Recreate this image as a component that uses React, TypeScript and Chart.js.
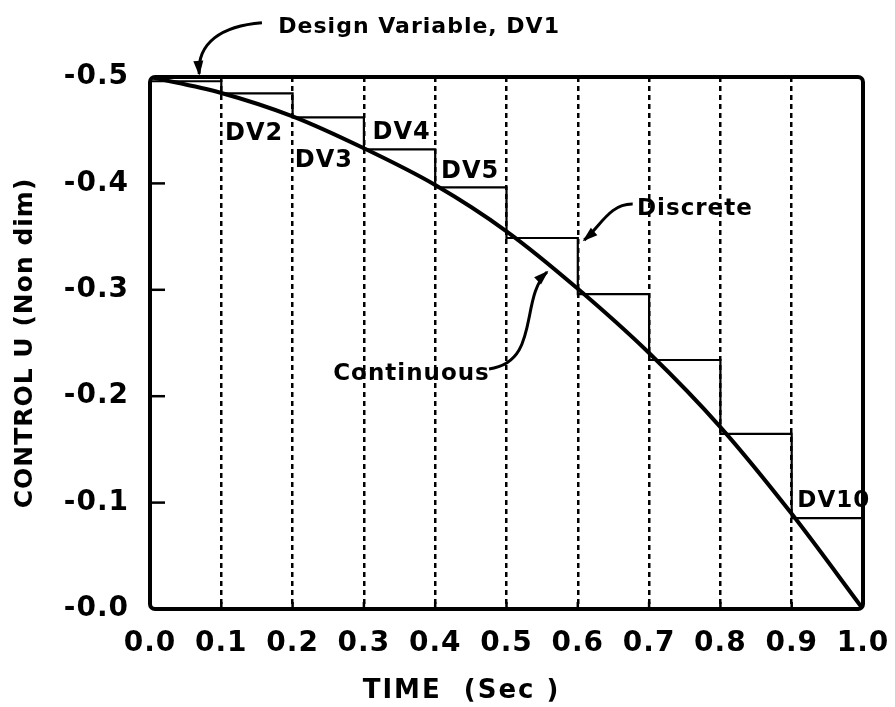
import React, { useEffect, useRef } from "react";
import { Chart, registerables } from "chart.js";

Chart.register(...registerables);

// ---- data ----
const timeValues = [0, 0.1, 0.2, 0.3, 0.4, 0.5, 0.6, 0.7, 0.8, 0.9, 1.0];
const continuousValues = [-0.5, -0.485, -0.463, -0.433, -0.3985, -0.355, -0.301, -0.2406, -0.171, -0.0895, 0];
const discreteValues = [-0.496, -0.4847, -0.462, -0.432, -0.3963, -0.3487, -0.296, -0.234, -0.1645, -0.0855, 0];
const xTickValues = [0, 0.1, 0.2, 0.3, 0.4, 0.5, 0.6, 0.7, 0.8, 0.9, 1.0];
const yTickValues = [-0.5, -0.4, -0.3, -0.2, -0.1, 0];
const yTickLabels = ["-0.5", "-0.4", "-0.3", "-0.2", "-0.1", "-0.0"];

const X_TITLE = "TIME  (Sec )";
const Y_TITLE = "CONTROL U (Non dim)";

// annotation texts anchored in data coordinates (time, control)
const textNotes = [
  { text: "Design Variable, DV1", t: 0.18, v: -0.547, align: "left", size: 22 },
  { text: "DV2", t: 0.146, v: -0.4464, align: "center", size: 24 },
  { text: "DV3", t: 0.244, v: -0.421, align: "center", size: 24 },
  { text: "DV4", t: 0.353, v: -0.448, align: "center", size: 24 },
  { text: "DV5", t: 0.449, v: -0.411, align: "center", size: 24 },
  { text: "DV10", t: 0.959, v: -0.1015, align: "center", size: 23 },
  { text: "Discrete", t: 0.683, v: -0.376, align: "left", size: 23 },
  { text: "Continuous", t: 0.257, v: -0.2209, align: "left", size: 23 },
];

// curved arrows: start, two control points, end (data coordinates)
const arrowNotes = [
  { p: [[0.157, -0.551], [0.100, -0.548], [0.066, -0.532], [0.069, -0.503]] },
  { p: [[0.677, -0.3806], [0.645, -0.381], [0.632, -0.360], [0.609, -0.3468]] },
  { p: [[0.4755, -0.2256], [0.548, -0.232], [0.518, -0.292], [0.5568, -0.3167]] },
];

const FONT = "'DejaVu Sans', 'Liberation Sans', sans-serif";

const spacingPlugin = {
  id: "letterSpacing",
  beforeLayout(chart: any) {
    (chart.ctx as any).letterSpacing = "1px";
  },
  beforeDraw(chart: any) {
    (chart.ctx as any).letterSpacing = "1px";
  },
};

const annotationPlugin = {
  id: "paperAnnotations",
  afterDatasetsDraw(chart: any) {
    const { ctx, chartArea: a, scales } = chart;
    const xs = scales.x;
    const ys = scales.y;
    const px = (t: number) => xs.getPixelForValue(t);
    const py = (v: number) => ys.getPixelForValue(v);
    ctx.save();
    ctx.strokeStyle = "#000";
    ctx.fillStyle = "#000";
    ctx.lineCap = "butt";

    // inward tick marks
    ctx.lineWidth = 2.5;
    yTickValues.forEach((v) => {
      if (v === -0.5 || v === 0) return;
      const yy = py(v);
      ctx.beginPath();
      ctx.moveTo(a.left, yy);
      ctx.lineTo(a.left + 15, yy);
      ctx.stroke();
    });
    xTickValues.forEach((t) => {
      if (t === 0 || t === 1) return;
      const xx = px(t);
      ctx.beginPath();
      ctx.moveTo(xx, a.bottom);
      ctx.lineTo(xx, a.bottom - 7);
      ctx.stroke();
    });

    // frame
    ctx.lineWidth = 4;
    ctx.lineJoin = "round";
    ctx.beginPath();
    ctx.roundRect(a.left, a.top, a.right - a.left, a.bottom - a.top, 5);
    ctx.stroke();

    // texts
    ctx.textBaseline = "middle";
    (ctx as any).letterSpacing = "1px";
    textNotes.forEach((n) => {
      ctx.font = `bold ${n.size}px ${FONT}`;
      ctx.textAlign = n.align as CanvasTextAlign;
      ctx.fillText(n.text, px(n.t), py(n.v));
    });

    // x title
    ctx.font = `bold 26px ${FONT}`;
    (ctx as any).letterSpacing = "2px";
    ctx.textAlign = "center";
    ctx.fillText(X_TITLE, px(0.437), py(0.077));
    (ctx as any).letterSpacing = "1px";

    // arrows
    ctx.lineWidth = 3;
    arrowNotes.forEach((ar) => {
      const pts = ar.p.map(([t, v]) => [px(t), py(v)]);
      ctx.beginPath();
      ctx.moveTo(pts[0][0], pts[0][1]);
      ctx.bezierCurveTo(pts[1][0], pts[1][1], pts[2][0], pts[2][1], pts[3][0], pts[3][1]);
      ctx.stroke();
      const ang = Math.atan2(pts[3][1] - pts[2][1], pts[3][0] - pts[2][0]);
      const L = 13;
      const W = 5;
      const ex = pts[3][0];
      const ey = pts[3][1];
      ctx.beginPath();
      ctx.moveTo(ex + Math.cos(ang) * 2, ey + Math.sin(ang) * 2);
      ctx.lineTo(ex - Math.cos(ang) * L - Math.sin(ang) * W, ey - Math.sin(ang) * L + Math.cos(ang) * W);
      ctx.lineTo(ex - Math.cos(ang) * L + Math.sin(ang) * W, ey - Math.sin(ang) * L - Math.cos(ang) * W);
      ctx.closePath();
      ctx.fill();
    });
    ctx.restore();
  },
};

export default function App() {
  const canvasRef = useRef<HTMLCanvasElement | null>(null);

  useEffect(() => {
    if (!canvasRef.current) return;
    document.body.style.margin = "0";
    const chart = new Chart(canvasRef.current, {
      type: "line",
      data: {
        datasets: [
          {
            label: "Continuous",
            data: timeValues.map((t, i) => ({ x: t, y: continuousValues[i] })),
            borderColor: "#000",
            borderWidth: 4,
            pointRadius: 0,
            cubicInterpolationMode: "monotone",
            fill: false,
          },
          {
            label: "Discrete",
            data: timeValues.map((t, i) => ({ x: t, y: discreteValues[i] })),
            borderColor: "#000",
            borderWidth: 2.2,
            pointRadius: 0,
            stepped: "before",
            fill: false,
          },
        ],
      },
      options: {
        animation: false,
        responsive: false,
        maintainAspectRatio: false,
        layout: { padding: { top: 77, right: 32, left: 0, bottom: 0 } },
        plugins: {
          legend: { display: false },
          tooltip: { enabled: false },
        },
        scales: {
          x: {
            type: "linear",
            min: 0,
            max: 1,
            afterFit: (s: any) => {
              s.height = 98;
              s.paddingLeft = 0;
              s.paddingRight = 0;
            },
            afterBuildTicks: (s: any) => {
              s.ticks = xTickValues.map((v) => ({ value: v }));
            },
            ticks: {
              color: "#000",
              padding: 18,
              font: { family: FONT, size: 28, weight: "bold" },
              callback: (v: any) => Number(v).toFixed(1),
              maxRotation: 0,
              autoSkip: false,
            },
            grid: {
              drawTicks: false,
              color: (c: any) =>
                c.tick && (c.tick.value === 0 || c.tick.value === 1) ? "rgba(0,0,0,0)" : "#000",
              lineWidth: 2.5,
            },
            border: { display: false, dash: [5, 4] },
          },
          y: {
            type: "linear",
            min: -0.5,
            max: 0,
            reverse: true,
            afterFit: (s: any) => {
              s.width = 150;
              s.paddingTop = 0;
              s.paddingBottom = 0;
            },
            afterBuildTicks: (s: any) => {
              s.ticks = yTickValues.map((v) => ({ value: v }));
            },
            ticks: {
              color: "#000",
              padding: 21,
              font: { family: FONT, size: 28, weight: "bold" },
              callback: (v: any) => {
                const i = yTickValues.findIndex((t) => Math.abs(t - Number(v)) < 1e-9);
                return i >= 0 ? yTickLabels[i] : "";
              },
              autoSkip: false,
            },
            grid: { display: false, drawTicks: false },
            border: { display: false },
            title: {
              display: true,
              text: Y_TITLE,
              color: "#000",
              font: { family: FONT, size: 25, weight: "bold" },
              padding: { top: 10, bottom: 0 },
            },
          },
        },
      },
      plugins: [spacingPlugin, annotationPlugin],
    });
    return () => chart.destroy();
  }, []);

  return (
    <div style={{ position: "absolute", left: 0, top: 0, width: 895, height: 707, background: "#fff" }}>
      <canvas ref={canvasRef} width={895} height={707} style={{ display: "block" }} />
    </div>
  );
}
